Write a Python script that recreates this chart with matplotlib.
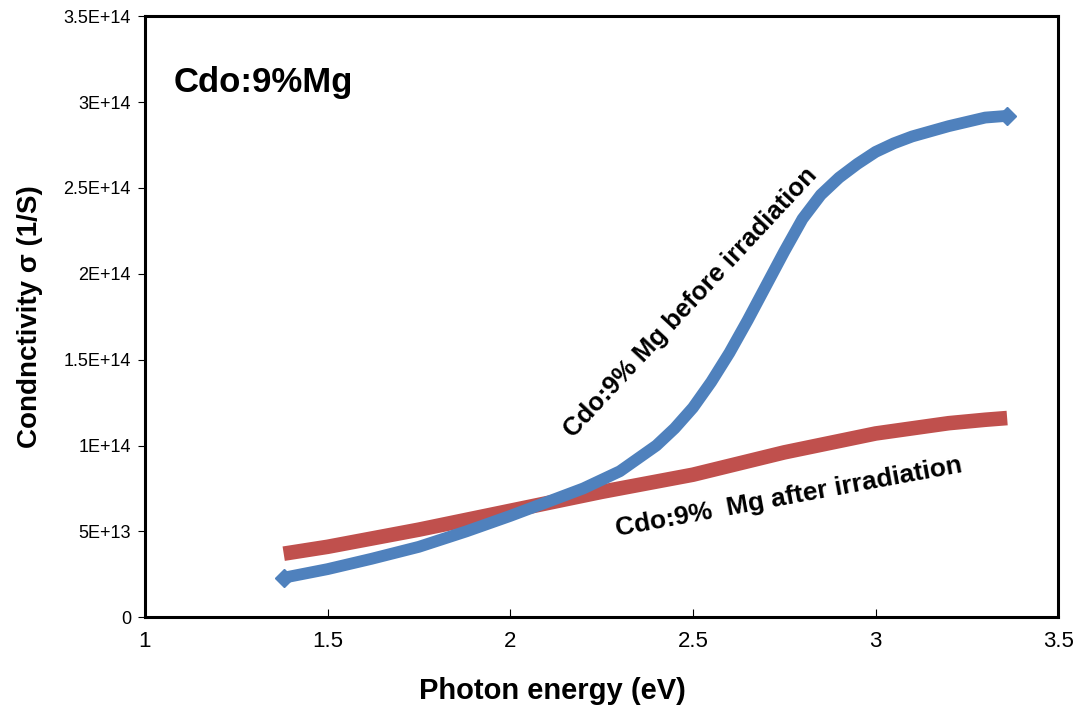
import numpy as np
import matplotlib
matplotlib.use("Agg")
import matplotlib.pyplot as plt

# values (photon energy in eV, conductivity in 1/S)
energy_before = [1.38, 1.5, 1.62, 1.75, 1.88, 2.0, 2.1, 2.2, 2.3, 2.4, 2.45, 2.5, 2.55,
                 2.6, 2.65, 2.7, 2.75, 2.8, 2.85, 2.9, 2.95, 3.0, 3.05, 3.1, 3.2, 3.3, 3.36]
sigma_before = [2.3e13, 2.8e13, 3.4e13, 4.1e13, 5.0e13, 5.9e13, 6.7e13, 7.5e13, 8.5e13,
                1.0e14, 1.1e14, 1.22e14, 1.37e14, 1.54e14, 1.73e14, 1.93e14, 2.13e14,
                2.32e14, 2.46e14, 2.56e14, 2.64e14, 2.71e14, 2.76e14, 2.8e14, 2.86e14,
                2.91e14, 2.92e14]

energy_after = [1.38, 1.5, 1.75, 2.0, 2.25, 2.5, 2.75, 3.0, 3.1, 3.2, 3.3, 3.36]
sigma_after = [3.7e13, 4.1e13, 5.1e13, 6.2e13, 7.3e13, 8.3e13, 9.6e13, 1.07e14,
               1.1e14, 1.13e14, 1.15e14, 1.16e14]

xticks = [1, 1.5, 2, 2.5, 3, 3.5]
yticks = [0, 5e13, 1e14, 1.5e14, 2e14, 2.5e14, 3e14, 3.5e14]
ytick_labels = ["0", "5E+13", "1E+14", "1.5E+14", "2E+14", "2.5E+14", "3E+14", "3.5E+14"]

plt.rcParams['font.family'] = ['Liberation Sans', 'DejaVu Sans']

fig = plt.figure(figsize=(10.81, 7.07), dpi=100)
ax = fig.add_axes([0.134, 0.127, 0.845, 0.85])

ax.plot(energy_after, sigma_after, color='#c0504d', lw=10.5, solid_capstyle='butt')
ax.plot(energy_before, sigma_before, color='#4f81bd', lw=8.5, solid_capstyle='butt',
        marker='D', markevery=[0, -1], markersize=9)

ax.set_xlim(1, 3.5)
ax.set_ylim(0, 3.5e14)
ax.set_xticks(xticks)
ax.set_xticklabels([str(t) for t in xticks], fontsize=16)
ax.set_yticks(yticks)
ax.set_yticklabels(ytick_labels, fontsize=13)
ax.tick_params(axis='x', direction='in', length=6, pad=10)
ax.tick_params(axis='y', direction='out', length=5, pad=5)

for s in ax.spines.values():
    s.set_linewidth(2.2)

ax.set_xlabel("Photon energy (eV)", fontsize=21, fontweight='bold')
ax.xaxis.set_label_coords(0.446, -0.1)
ax.set_ylabel("Condnctivity \u03c3 (1/S)", fontsize=20, fontweight='bold')
ax.yaxis.set_label_coords(-0.112, 0.5)

ax.text(1.08, 3.06e14, "Cdo:9%Mg", fontsize=25, fontweight='bold')
ax.text(2.493, 1.835e14, "Cdo:9% Mg before irradiation", fontsize=18.5, fontweight='bold',
        rotation=47, ha='center', va='center', rotation_mode='anchor')
ax.text(2.762, 0.70e14, "Cdo:9%  Mg after irradiation", fontsize=19, fontweight='bold',
        rotation=10.5, ha='center', va='center', rotation_mode='anchor')

plt.savefig("out.png", dpi=100)
